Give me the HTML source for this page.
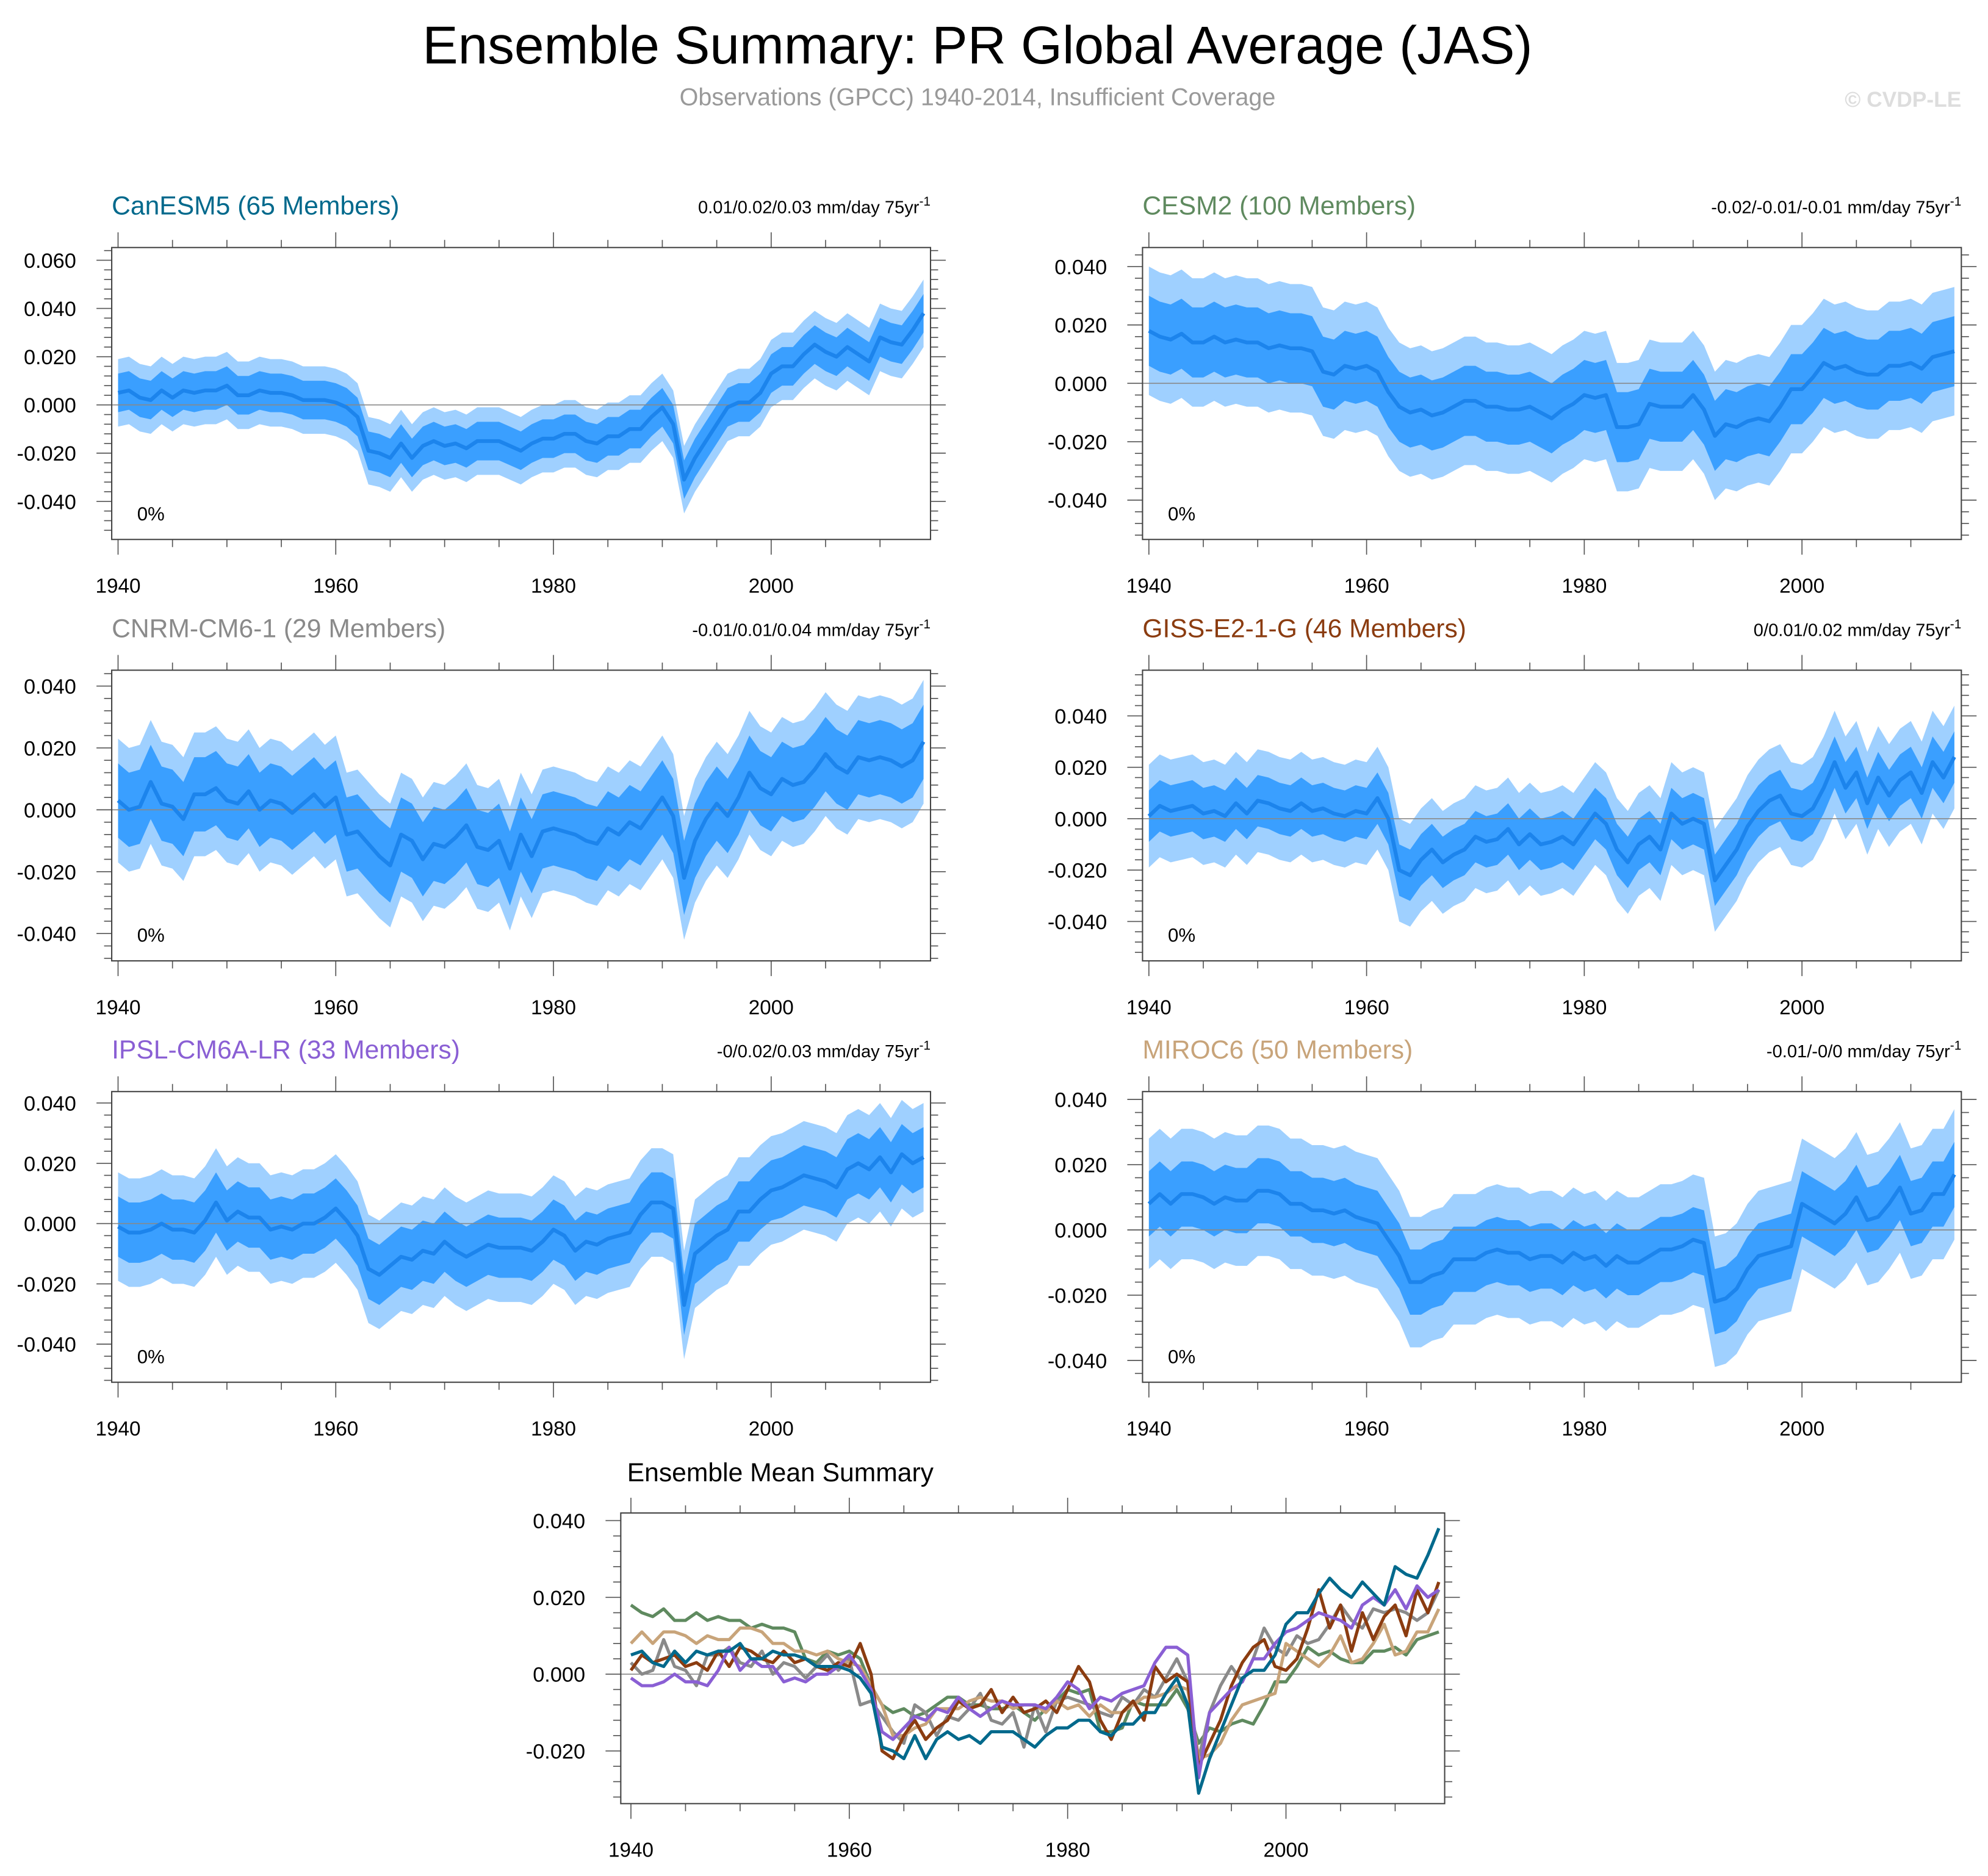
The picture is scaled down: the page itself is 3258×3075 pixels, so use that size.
<!DOCTYPE html>
<html><head><meta charset="utf-8"><style>
html,body{margin:0;padding:0;background:#fff}
svg{display:block;font-family:"Liberation Sans",Arial,sans-serif}
</style></head><body>
<svg id="fig" width="3258" height="3075" viewBox="0 0 1566 1478" xmlns="http://www.w3.org/2000/svg">
<text x="770" y="50" text-anchor="middle" font-size="42">Ensemble Summary: PR Global Average (JAS)</text>
<text x="770" y="83" text-anchor="middle" font-size="19" fill="#999">Observations (GPCC) 1940-2014, Insufficient Coverage</text>
<text x="1545" y="84" text-anchor="end" font-size="17" font-weight="bold" fill="#ddd">© CVDP-LE</text>
</svg>
<script>
const years = Array.from({length:75},(_,i)=>1940+i);
const canesm5 = [0.005,0.006,0.003,0.002,0.006,0.003,0.006,0.005,0.006,0.006, 0.008,0.004,0.004,0.006,0.005,0.005,0.004,0.002,0.002,0.002, 0.001,-0.001,-0.005,-0.019,-0.020,-0.022,-0.016,-0.022,-0.017,-0.015, -0.017,-0.016,-0.018,-0.015,-0.015,-0.015,-0.017,-0.019,-0.016,-0.014, -0.014,-0.012,-0.012,-0.015,-0.016,-0.013,-0.013,-0.010,-0.010,-0.005, -0.001,-0.008,-0.031,-0.022,-0.015,-0.008,-0.001,0.001,0.001,0.005, 0.013,0.016,0.016,0.021,0.025,0.022,0.020,0.024,0.021,0.018, 0.028,0.026,0.025,0.031,0.038];
const cesm2 = [0.018,0.016,0.015,0.017,0.014,0.014,0.016,0.014,0.015,0.014, 0.014,0.012,0.013,0.012,0.012,0.011,0.004,0.003,0.006,0.005, 0.006,0.004,-0.003,-0.008,-0.010,-0.009,-0.011,-0.010,-0.008,-0.006, -0.006,-0.008,-0.008,-0.009,-0.009,-0.008,-0.010,-0.012,-0.009,-0.007, -0.004,-0.005,-0.004,-0.015,-0.015,-0.014,-0.007,-0.008,-0.008,-0.008, -0.004,-0.009,-0.018,-0.014,-0.015,-0.013,-0.012,-0.013,-0.008,-0.002, -0.002,0.002,0.007,0.005,0.006,0.004,0.003,0.003,0.006,0.006, 0.007,0.005,0.009,0.010,0.011];
const cnrm = [0.003,0.000,0.001,0.009,0.002,0.001,-0.003,0.005,0.005,0.007, 0.003,0.002,0.006,0.000,0.003,0.002,-0.001,0.002,0.005,0.001, 0.004,-0.008,-0.007,-0.011,-0.015,-0.018,-0.008,-0.010,-0.016,-0.011, -0.012,-0.009,-0.005,-0.012,-0.013,-0.010,-0.019,-0.008,-0.015,-0.007, -0.006,-0.007,-0.008,-0.010,-0.011,-0.006,-0.008,-0.004,-0.006,-0.001, 0.004,-0.002,-0.022,-0.010,-0.003,0.002,-0.002,0.004,0.012,0.007, 0.005,0.010,0.008,0.009,0.013,0.018,0.014,0.012,0.017,0.016, 0.017,0.016,0.014,0.016,0.022];
const giss = [0.001,0.005,0.003,0.004,0.005,0.002,0.003,0.001,0.006,0.002, 0.007,0.006,0.004,0.003,0.006,0.003,0.004,0.002,0.001,0.003, 0.002,0.008,0.000,-0.020,-0.022,-0.016,-0.012,-0.017,-0.014,-0.012, -0.007,-0.009,-0.008,-0.004,-0.010,-0.006,-0.010,-0.009,-0.007,-0.010, -0.004,0.002,-0.002,-0.012,-0.017,-0.010,-0.007,-0.012,0.002,-0.002, 0.000,-0.002,-0.024,-0.018,-0.012,-0.003,0.003,0.007,0.009,0.002, 0.001,0.004,0.012,0.022,0.012,0.018,0.006,0.016,0.009,0.015, 0.018,0.010,0.022,0.016,0.024];
const ipsl = [-0.001,-0.003,-0.003,-0.002,0.000,-0.002,-0.002,-0.003,0.001,0.007, 0.001,0.004,0.002,0.002,-0.002,-0.001,-0.002,0.000,0.000,0.002, 0.005,0.001,-0.004,-0.015,-0.017,-0.014,-0.011,-0.012,-0.009,-0.010, -0.006,-0.009,-0.011,-0.009,-0.007,-0.008,-0.008,-0.008,-0.009,-0.006, -0.002,-0.004,-0.009,-0.006,-0.007,-0.005,-0.004,-0.003,0.003,0.007, 0.007,0.005,-0.027,-0.010,-0.007,-0.004,-0.002,0.004,0.004,0.008, 0.011,0.012,0.014,0.016,0.015,0.014,0.012,0.018,0.020,0.018, 0.022,0.017,0.023,0.020,0.022];
const miroc6 = [0.008,0.011,0.008,0.011,0.011,0.010,0.008,0.010,0.009,0.009, 0.012,0.012,0.011,0.008,0.008,0.006,0.006,0.005,0.006,0.004, 0.003,0.002,-0.003,-0.008,-0.016,-0.016,-0.014,-0.013,-0.009,-0.009, -0.009,-0.007,-0.006,-0.007,-0.007,-0.009,-0.008,-0.008,-0.010,-0.007, -0.009,-0.008,-0.011,-0.008,-0.010,-0.010,-0.008,-0.006,-0.006,-0.005, -0.003,-0.004,-0.022,-0.021,-0.018,-0.012,-0.008,-0.007,-0.006,-0.005, 0.008,0.006,0.004,0.002,0.005,0.010,0.003,0.004,0.008,0.013, 0.005,0.006,0.011,0.011,0.017];
const modelNames = ["CanESM5 (65 Members)","CESM2 (100 Members)","CNRM-CM6-1 (29 Members)","GISS-E2-1-G (46 Members)","IPSL-CM6A-LR (33 Members)","MIROC6 (50 Members)"];
const trendLabels = ["0.01/0.02/0.03 mm/day 75yr","-0.02/-0.01/-0.01 mm/day 75yr","-0.01/0.01/0.04 mm/day 75yr","0/0.01/0.02 mm/day 75yr","-0/0.02/0.03 mm/day 75yr","-0.01/-0/0 mm/day 75yr"];
const innerSpread = [0.008,0.012,0.012,0.010,0.010,0.010];
const outerSpread = [0.014,0.022,0.020,0.020,0.018,0.020];
const yTicks = [[0.06,0.04,0.02,0,-0.02,-0.04],[0.04,0.02,0,-0.02,-0.04],[0.04,0.02,0,-0.02,-0.04],[0.04,0.02,0,-0.02,-0.04],[0.04,0.02,0,-0.02,-0.04],[0.04,0.02,0,-0.02,-0.04]];
const summaryTicks = [0.04,0.02,0,-0.02];
const xTicks = [1940,1960,1980,2000];
const series = [canesm5,cesm2,cnrm,giss,ipsl,miroc6];
const colors = ["#00698c","#5f8a5f","#8a8a8a","#8b3c10","#8a5fd4","#c8a47a"];

const NS="http://www.w3.org/2000/svg";
const svg=document.getElementById('fig');
function el(tag,attrs,parent){const e=document.createElementNS(NS,tag);for(const k in attrs)e.setAttribute(k,attrs[k]);(parent||svg).appendChild(e);return e;}

const panels=[
 {x0:88,x1:733,y0:195,y1:425,x1940:93,zero:319,p02:38},
 {x0:900,x1:1545,y0:195,y1:425,x1940:905,zero:302,p02:46},
 {x0:88,x1:733,y0:528,y1:757,x1940:93,zero:638,p02:48.75},
 {x0:900,x1:1545,y0:528,y1:757,x1940:905,zero:645,p02:40.5},
 {x0:88,x1:733,y0:860,y1:1089,x1940:93,zero:964,p02:47.5},
 {x0:900,x1:1545,y0:860,y1:1089,x1940:905,zero:969,p02:51.4}
];
const PXY=8.5745;

function axes(g,P,ticks){
  const xs=y=>P.x1940+(y-1940)*P.pxy;
  const ys=v=>P.zero-v/0.02*P.p02;
  for(let y=1940;y<=2015;y+=5){
    const X=xs(y); if(X>P.x1) continue;
    const big=(y%20===0);
    el('line',{x1:X,x2:X,y1:P.y1,y2:P.y1+(big?12:6),stroke:'#555','stroke-width':0.8},g);
    el('line',{x1:X,x2:X,y1:P.y0,y2:P.y0-(big?12:6),stroke:'#555','stroke-width':0.8},g);
  }
  xTicks.forEach(y=>{const t=el('text',{x:xs(y),y:P.y1+42,'text-anchor':'middle','font-size':16},g);t.textContent=y;
    
    });
  for(let k=-20;k<=20;k++){
    const v=k*0.004, Y=ys(v); if(Y<P.y0+1||Y>P.y1-1) continue;
    const big=(k%5===0);
    el('line',{x1:P.x0,x2:P.x0-(big?12:6),y1:Y,y2:Y,stroke:'#555','stroke-width':0.8},g);
    el('line',{x1:P.x1,x2:P.x1+(big?12:6),y1:Y,y2:Y,stroke:'#555','stroke-width':0.8},g);
  }
  ticks.forEach(v=>{const t=el('text',{x:P.x0-28,y:ys(v)+6,'text-anchor':'end','font-size':16.5},g);t.textContent=v.toFixed(3);
    
    });
  return [xs,ys];
}

panels.forEach((P,i)=>{
  P.pxy=PXY;
  const g=el('g',{});
  
  
  const [xs,ys]=axes(g,P,yTicks[i]);
  const d=series[i];
  const band=(s)=>{let up=d.map((v,j)=>xs(years[j])+','+ys(v+s)); let dn=d.map((v,j)=>xs(years[j])+','+ys(v-s)).reverse(); return up.concat(dn).join(' ');};
  const ob=el('polygon',{points:band(outerSpread[i]),fill:'#9fd0ff'},g);
  
  
  const ib=el('polygon',{points:band(innerSpread[i]),fill:'#3a9fff'},g);
  
  
  el('line',{x1:P.x0,x2:P.x1,y1:ys(0),y2:ys(0),stroke:'#888','stroke-width':0.8},g);
  const ml=el('polyline',{points:d.map((v,j)=>xs(years[j])+','+ys(v)).join(' '),fill:'none',stroke:'#1c84ec','stroke-width':3,'stroke-linejoin':'round'},g);
  
  
  el('rect',{x:P.x0,y:P.y0,width:P.x1-P.x0,height:P.y1-P.y0,fill:'none',stroke:'#444','stroke-width':1},g);
  const t=el('text',{x:P.x0,y:P.y0-26,'font-size':20.5,fill:colors[i]},g);t.textContent=modelNames[i];
  
  
  const r=el('text',{x:P.x1,y:P.y0-27,'text-anchor':'end','font-size':14},g);r.textContent=trendLabels[i];
  const sup=el('tspan',{dy:-6,'font-size':10},r);sup.textContent='-1';
  
  
  const p=el('text',{x:P.x0+20,y:P.y1-15,'font-size':15},g);p.textContent='0%';
  
  
});

const S={x0:489,x1:1138,y0:1192,y1:1421,x1940:497,zero:1319,p02:60.5,pxy:8.6};
const gs=el('g',{});


const [sx,sy]=axes(gs,S,summaryTicks);
el('line',{x1:S.x0,x2:S.x1,y1:sy(0),y2:sy(0),stroke:'#888','stroke-width':0.8},gs);
[1,2,5,3,4,0].forEach(i=>{
  const l=el('polyline',{points:series[i].map((v,j)=>sx(years[j])+','+sy(v)).join(' '),fill:'none',stroke:colors[i],'stroke-width':2.5,'stroke-linejoin':'round'},gs);
  
  
});
el('rect',{x:S.x0,y:S.y0,width:S.x1-S.x0,height:S.y1-S.y0,fill:'none',stroke:'#444','stroke-width':1},gs);
const st=el('text',{x:494,y:1167,'font-size':20.5},gs);st.textContent='Ensemble Mean Summary';


</script>
</body></html>
